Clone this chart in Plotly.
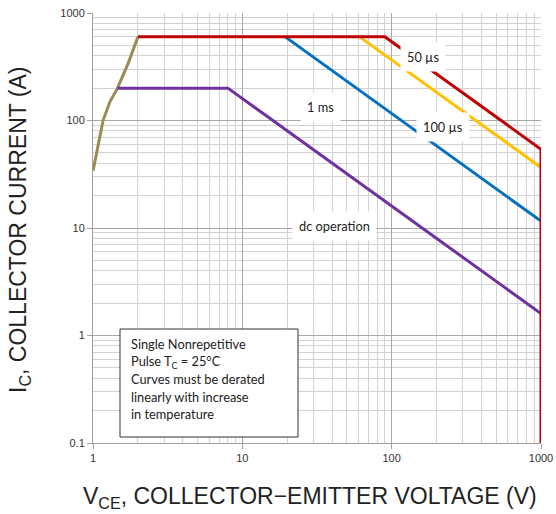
import plotly.graph_objects as go

# ---- data ----
vce_limit = [1.0, 1.07, 1.17, 1.30, 1.46, 1.72, 2.0]
ic_limit = [34, 53, 101, 150, 200, 340, 600]

vce_50us = [2.0, 90, 1000, 1000]
ic_50us = [600, 600, 54, 0.1]

vce_100us = [61, 1000]
ic_100us = [600, 36.6]

vce_1ms = [19.4, 1000]
ic_1ms = [600, 11.6]

vce_dc = [1.46, 8.0, 1000]
ic_dc = [200, 200, 1.6]

x_tickvals = [1, 10, 100, 1000]
x_ticktext = ["1", "10", "100", "1000"]
y_tickvals = [0.1, 1, 10, 100, 1000]
y_ticktext = ["0.1", "1", "10", "100", "1000"]

x_title = "V<sub>CE</sub>, COLLECTOR−EMITTER VOLTAGE (V)"
y_title = "I<sub>C</sub>, COLLECTOR CURRENT (A)"
curve_labels = ["50 µs", "1 ms", "100 µs", "dc operation"]
note_lines = ["Single Nonrepetitive", "Pulse T<sub>C</sub> = 25°C",
              "Curves must be derated", "linearly with increase", "in temperature"]

fig = go.Figure()
LW = 3
fig.add_trace(go.Scatter(x=vce_limit, y=ic_limit, mode="lines",
                         line=dict(color="#9A8B55", width=LW), hoverinfo="skip"))
fig.add_trace(go.Scatter(x=vce_dc, y=ic_dc, mode="lines",
                         line=dict(color="#7030A0", width=LW), hoverinfo="skip"))
fig.add_trace(go.Scatter(x=vce_1ms, y=ic_1ms, mode="lines",
                         line=dict(color="#0070C0", width=LW), hoverinfo="skip"))
fig.add_trace(go.Scatter(x=vce_100us, y=ic_100us, mode="lines",
                         line=dict(color="#FFC000", width=LW), hoverinfo="skip"))
fig.add_trace(go.Scatter(x=vce_50us, y=ic_50us, mode="lines",
                         line=dict(color="#C00000", width=LW), hoverinfo="skip"))

W, H = 556, 514
# plot area in window pixels
X0, X1, Y0, Y1 = 93, 541, 13, 443
L, R, T, B = X0, W - X1, Y0, H - Y1
pw, ph = X1 - X0, Y1 - Y0


def px(xp):
    return (xp - X0) / pw


def py(yp):
    return (Y1 - yp) / ph


label_pos = [(423, 57), (320, 106.5), (443, 127), (334, 226)]
annotations = []
for txt, (xp, yp) in zip(curve_labels, label_pos):
    annotations.append(dict(text=txt, x=px(xp), y=py(yp), xref="paper", yref="paper",
                            showarrow=False, xanchor="center", yanchor="middle",
                            font=dict(family="Lato, Open Sans, sans-serif", size=12.8, color="#222222"),
                            bgcolor="white", borderpad=6))

line_y = [344, 361.5, 379, 396.5, 414]
for txt, yp in zip(note_lines, line_y):
    annotations.append(dict(text=txt, x=px(129), y=py(yp), xref="paper", yref="paper",
                            showarrow=False, xanchor="left", yanchor="middle",
                            font=dict(family="Lato, Open Sans, sans-serif", size=12.8, color="#222222")))

title_font = dict(family="Liberation Sans, Arial, sans-serif", size=23, color="#222222")
annotations.append(dict(text=x_title, x=px(310), y=py(497), xref="paper", yref="paper",
                        showarrow=False, xanchor="center", yanchor="middle", font=title_font))
annotations.append(dict(text=y_title, x=px(19), y=py(230), xref="paper", yref="paper",
                        showarrow=False, xanchor="center", yanchor="middle", textangle=-90,
                        font=title_font))

fig.add_shape(type="rect", xref="paper", yref="paper",
              x0=px(120), x1=px(298), y0=py(437), y1=py(329),
              line=dict(color="#333333", width=1), fillcolor="white", layer="above")

axis_common = dict(
    type="log", automargin=False, ticklabeloverflow="allow",
    showgrid=True, gridcolor="#A8A8A8", gridwidth=1,
    showline=True, linecolor="#A0A0A0", linewidth=1,
    ticks="outside", ticklen=5, tickcolor="#A0A0A0",
    tickfont=dict(family="Liberation Sans, Arial, sans-serif", size=11, color="#333333"),
    minor=dict(showgrid=True, gridcolor="#D2D2D2", gridwidth=1, dtick="D1"),
    zeroline=False, mirror=False,
)

fig.update_xaxes(**axis_common, range=[0, 3], tickvals=x_tickvals, ticktext=x_ticktext)
fig.update_yaxes(**axis_common, range=[-1, 3], tickvals=y_tickvals, ticktext=y_ticktext)

fig.update_layout(width=W, height=H, margin=dict(l=L, r=R, t=T, b=B, autoexpand=False),
                  paper_bgcolor="white", plot_bgcolor="white", showlegend=False,
                  annotations=annotations)

fig.write_html("out.html", config={"displayModeBar": False, "staticPlot": True},
               post_script="document.body.style.margin='0';document.body.style.overflow='hidden';")
